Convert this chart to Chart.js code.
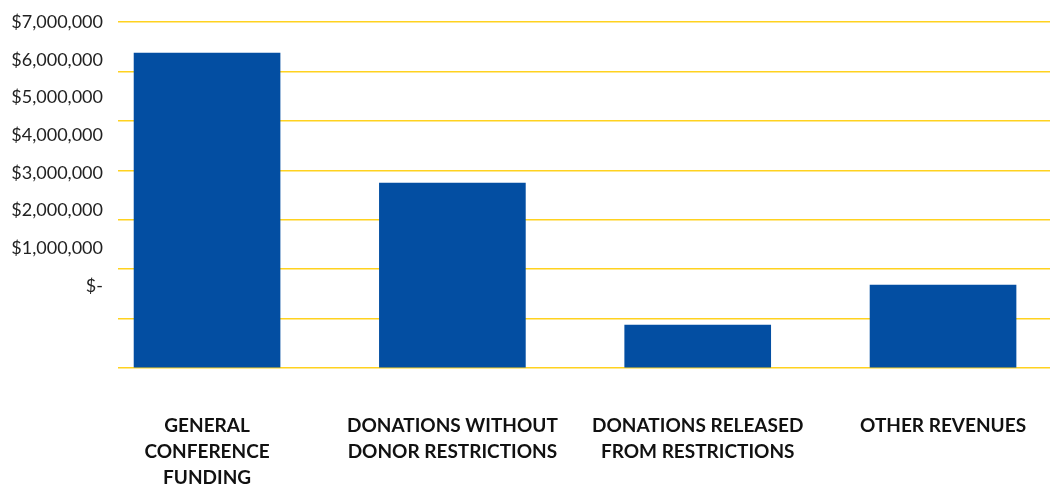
<!DOCTYPE html>
<html>
<head>
<meta charset="utf-8">
<script src="https://cdn.jsdelivr.net/npm/chart.js@4"></script>
<style>
  html, body { margin: 0; padding: 0; background: #fff; overflow: hidden; }
  canvas { display: block; }
</style>
</head>
<body>
<canvas id="chart" width="1050" height="528"></canvas>
<script>
// categories and values
const categories = [
  ['GENERAL', 'CONFERENCE', 'FUNDING'],
  ['DONATIONS WITHOUT', 'DONOR RESTRICTIONS'],
  ['DONATIONS RELEASED', 'FROM RESTRICTIONS'],
  ['OTHER REVENUES']
];
const revenues = [6370000, 3740000, 870000, 1680000];

// gridline steps
const gridValues = [0, 1000000, 2000000, 3000000, 4000000, 5000000, 6000000, 7000000];
// tick labels (these sit on their own, offset scale in the original)
const tickValues = [0, 1000000, 2000000, 3000000, 4000000, 5000000, 6000000, 7000000];
const tickLabels = ['$-', '$1,000,000', '$2,000,000', '$3,000,000', '$4,000,000', '$5,000,000', '$6,000,000', '$7,000,000'];

const barColor = '#034ea2';
const gridColor = '#ffd21f';

const ctx = document.getElementById('chart').getContext('2d');
new Chart(ctx, {
  type: 'bar',
  data: {
    datasets: [{
      data: revenues.map((v, i) => ({ x: i, y: v })),
      backgroundColor: barColor,
      barThickness: 146
    }]
  },
  options: {
    responsive: false,
    animation: false,
    layout: { padding: { top: 22, right: 0, bottom: 0, left: 0 } },
    plugins: { legend: { display: false }, tooltip: { enabled: false } },
    scales: {
      x: {
        type: 'linear',
        offset: false,
        min: -0.363,
        max: 3.436,
        grid: { display: false, offset: false },
        border: { display: false },
        afterBuildTicks: (scale) => {
          scale.ticks = categories.map((c, i) => ({ value: i }));
        },
        // no extra side padding, the gridlines run to the right edge
        afterFit: (scale) => { scale.paddingLeft = 0; scale.paddingRight = 0; },
        ticks: {
          autoSkip: false,
          maxRotation: 0,
          padding: 37,
          color: '#111',
          font: { family: 'Lato', size: 19, weight: 'bold', lineHeight: '26px' },
          callback: (v) => categories[v] || ''
        }
      },
      y: {
        position: 'left',
        min: 0,
        max: 7000000,
        afterBuildTicks: (scale) => {
          scale.ticks = gridValues.map(v => ({ value: v }));
        },
        grid: { color: gridColor, lineWidth: 1.5, drawTicks: false },
        border: { display: false },
        ticks: { display: false }
      },
      y2: {
        position: 'left',
        min: -2170000,
        max: 7000000,
        grid: { display: false },
        border: { display: false },
        afterBuildTicks: (scale) => {
          scale.ticks = tickValues.map(v => ({ value: v }));
        },
        afterFit: (scale) => { scale.width = 118; },
        ticks: {
          padding: 7,
          color: '#222',
          font: { family: 'Lato', size: 18 },
          callback: (v) => tickLabels[tickValues.indexOf(v)]
        }
      }
    }
  }
});
</script>
</body>
</html>
